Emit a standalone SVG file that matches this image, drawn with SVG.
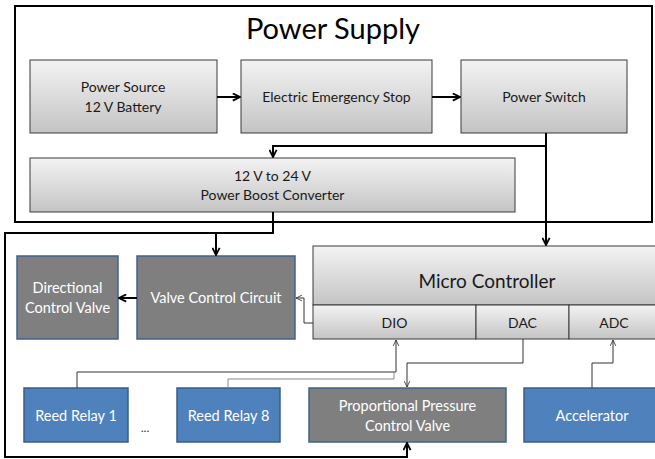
<svg xmlns="http://www.w3.org/2000/svg" width="655" height="459" viewBox="0 0 655 459">
<defs>
<linearGradient id="g" x1="0" y1="0" x2="0" y2="1">
<stop offset="0" stop-color="#f3f3f3"/>
<stop offset="1" stop-color="#c4c4c4"/>
</linearGradient>
<marker id="ah" viewBox="0 0 10 10" refX="9" refY="5" markerWidth="9" markerHeight="9" markerUnits="userSpaceOnUse" orient="auto">
<path d="M1,1 L9,5 L1,9" fill="none" stroke="#000" stroke-width="2"/>
</marker>
<marker id="at" viewBox="0 0 10 10" refX="9.5" refY="5" markerWidth="7" markerHeight="7" markerUnits="userSpaceOnUse" orient="auto">
<path d="M1,1 L9.5,5 L1,9" fill="none" stroke="#333" stroke-width="1.2"/>
</marker>
</defs>
<style>
.gb{fill:url(#g);stroke:#3a3a3a;stroke-width:1}
.dk{fill:#7f7f7f;stroke:#41628f;stroke-width:1.5}
.bl{fill:#4f81bd;stroke:#385d8a;stroke-width:1.5}
text{font-family:Lato,"Liberation Sans",sans-serif;text-anchor:middle}
.t{font-size:14px;fill:#1a1a1a}
.w{font-size:14.5px;fill:#ffffff}
.thick{fill:none;stroke:#000;stroke-width:2}
.thin{fill:none;stroke:#333;stroke-width:1}
</style>
<rect width="655" height="459" fill="#fff"/>
<g id="power-supply">
<rect x="15" y="6" width="637" height="216" fill="#fff" stroke="#000" stroke-width="2"/>
<text x="333" y="39" style="font-size:29px;fill:#000">Power Supply</text>
</g>
<g id="power-source">
<rect class="gb" x="30" y="60" width="187" height="73"/>
<text class="t" x="123" y="92">Power Source</text>
<text class="t" x="123" y="112">12 V Battery</text>
</g>
<g id="emergency-stop">
<rect class="gb" x="241" y="60" width="191" height="73"/>
<text class="t" x="336.5" y="102">Electric Emergency Stop</text>
</g>
<g id="power-switch">
<rect class="gb" x="461" y="60" width="166" height="73"/>
<text class="t" x="544" y="102">Power Switch</text>
</g>
<g id="boost-converter">
<rect class="gb" x="30" y="158" width="485" height="54"/>
<text class="t" x="272.5" y="181">12 V to 24 V</text>
<text class="t" x="272.5" y="200">Power Boost Converter</text>
</g>
<g id="micro-controller">
<rect class="gb" x="313" y="246" width="352" height="59"/>
<text x="487" y="288" style="font-size:19px;fill:#1a1a1a">Micro Controller</text>
<rect class="gb" x="313" y="305" width="163" height="34"/>
<rect class="gb" x="476" y="305" width="93" height="34"/>
<rect class="gb" x="569" y="305" width="96" height="34"/>
<text class="t" x="394.5" y="328">DIO</text>
<text class="t" x="522.5" y="328">DAC</text>
<text class="t" x="614" y="328">ADC</text>
</g>
<g id="directional-control-valve">
<rect class="dk" x="17" y="256" width="101" height="83"/>
<text class="w" x="67.5" y="293">Directional</text>
<text class="w" x="67.5" y="313">Control Valve</text>
</g>
<g id="valve-control-circuit">
<rect class="dk" x="137" y="256" width="158" height="83"/>
<text class="w" x="216" y="303">Valve Control Circuit</text>
</g>
<g id="reed-relay-1">
<rect class="bl" x="24" y="388" width="104" height="54"/>
<text class="w" x="76" y="421">Reed Relay 1</text>
</g>
<g id="ellipsis">
<text x="145" y="432" style="font-size:12px;fill:#333">...</text>
</g>
<g id="reed-relay-8">
<rect class="bl" x="177" y="388" width="103" height="54"/>
<text class="w" x="228.5" y="421">Reed Relay 8</text>
</g>
<g id="proportional-valve">
<rect class="dk" x="309" y="388" width="197" height="54"/>
<text class="w" x="407.5" y="411">Proportional Pressure</text>
<text class="w" x="407.5" y="431">Control Valve</text>
</g>
<g id="accelerator">
<rect class="bl" x="524" y="388" width="140" height="54"/>
<text class="w" x="592" y="421">Accelerator</text>
</g>
<g id="connectors">
<path class="thick" d="M217,97 H240" marker-end="url(#ah)"/>
<path class="thick" d="M432,97 H460" marker-end="url(#ah)"/>
<path class="thick" d="M546,133 V245" marker-end="url(#ah)"/>
<path class="thick" d="M546,146 H273 V157" marker-end="url(#ah)"/>
<path class="thick" d="M273,212 V233 H216 V255" marker-end="url(#ah)"/>
<path class="thick" d="M216,233 H5 V457 H407 V443" marker-end="url(#ah)"/>
<path class="thick" d="M137,298 H119" marker-end="url(#ah)"/>
<path class="thin" d="M313,323 H304 V298 H296" marker-end="url(#at)"/>
<path class="thin" d="M77,388 V372 H396 V340" marker-end="url(#at)"/>
<path class="thin" d="M228,388 V379 H394 V372" style="stroke:#888"/>
<path class="thin" d="M523,339 V363 H407 V387" marker-end="url(#at)"/>
<path class="thin" d="M592,388 V363 H613 V340" marker-end="url(#at)"/>
</g>
</svg>
